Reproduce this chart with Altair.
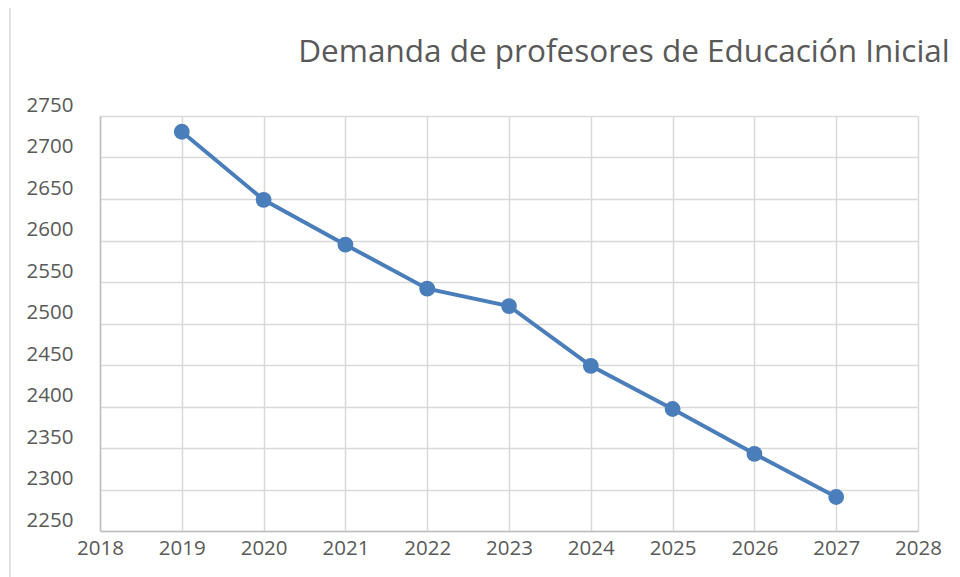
import altair as alt
import pandas as pd

years = [2019, 2020, 2021, 2022, 2023, 2024, 2025, 2026, 2027]
demand = [2731, 2649, 2595, 2542, 2521, 2449, 2397, 2343, 2291]
title_text = "Demanda de profesores de Educación Inicial"

df = pd.DataFrame({"year": years, "demand": demand})

FONT = "Open Sans"
TXT = "#595959"
BLUE = "#4A7EBB"
GRID = "#D9D9D9"

base = alt.Chart(df).encode(
    x=alt.X("year:Q",
            scale=alt.Scale(domain=[2018, 2028], nice=False, zero=False),
            axis=alt.Axis(title=None, values=list(range(2018, 2029)), format="d",
                          grid=True, gridColor=GRID, gridWidth=1.5,
                          domain=True, domainColor="#BFBFBF", domainWidth=1.5,
                          ticks=False, labelFont=FONT, labelFontSize=20.5,
                          labelColor=TXT, labelPadding=7, labelFlush=False,
                          labelOverlap=False, labelBound=False)),
    y=alt.Y("demand:Q",
            scale=alt.Scale(domain=[2250, 2750], nice=False, zero=False),
            axis=alt.Axis(title=None, values=list(range(2250, 2751, 50)), format="d",
                          grid=True, gridColor=GRID, gridWidth=1.5,
                          domain=True, domainColor="#BFBFBF", domainWidth=1.5,
                          ticks=False, labelFont=FONT, labelFontSize=20.5,
                          labelColor=TXT, labelPadding=27, labelOffset=-11,
                          labelBaseline="middle", labelFlush=False,
                          labelOverlap=False)),
)

line = base.mark_line(color=BLUE, strokeWidth=4)
pts = base.mark_circle(color=BLUE, size=250, opacity=1)

border_df = pd.DataFrame({"k": [0]})
left_border = alt.Chart(border_df).mark_rule(color=GRID, strokeWidth=1.5).encode(
    x=alt.value(-90), y=alt.value(-112), y2=alt.value(470))
top_border = alt.Chart(border_df).mark_rule(color=GRID, strokeWidth=1.5).encode(
    y=alt.value(-112), x=alt.value(-90), x2=alt.value(860))

title_df = pd.DataFrame({"t": [title_text]})
title_mark = alt.Chart(title_df).mark_text(
    font=FONT, fontSize=31.5, color=TXT, align="center", baseline="alphabetic"
).encode(text="t:N", x=alt.value(524), y=alt.value(-54))

chart = alt.layer(left_border, top_border, line, pts, title_mark).properties(
    width=818, height=415,
    autosize=alt.AutoSizeParams(type="none"),
    padding={"left": 92, "top": 108, "right": 34, "bottom": 46},
).configure_view(stroke=None)

chart.save("out.html", embed_options={"renderer": "svg", "actions": False})
